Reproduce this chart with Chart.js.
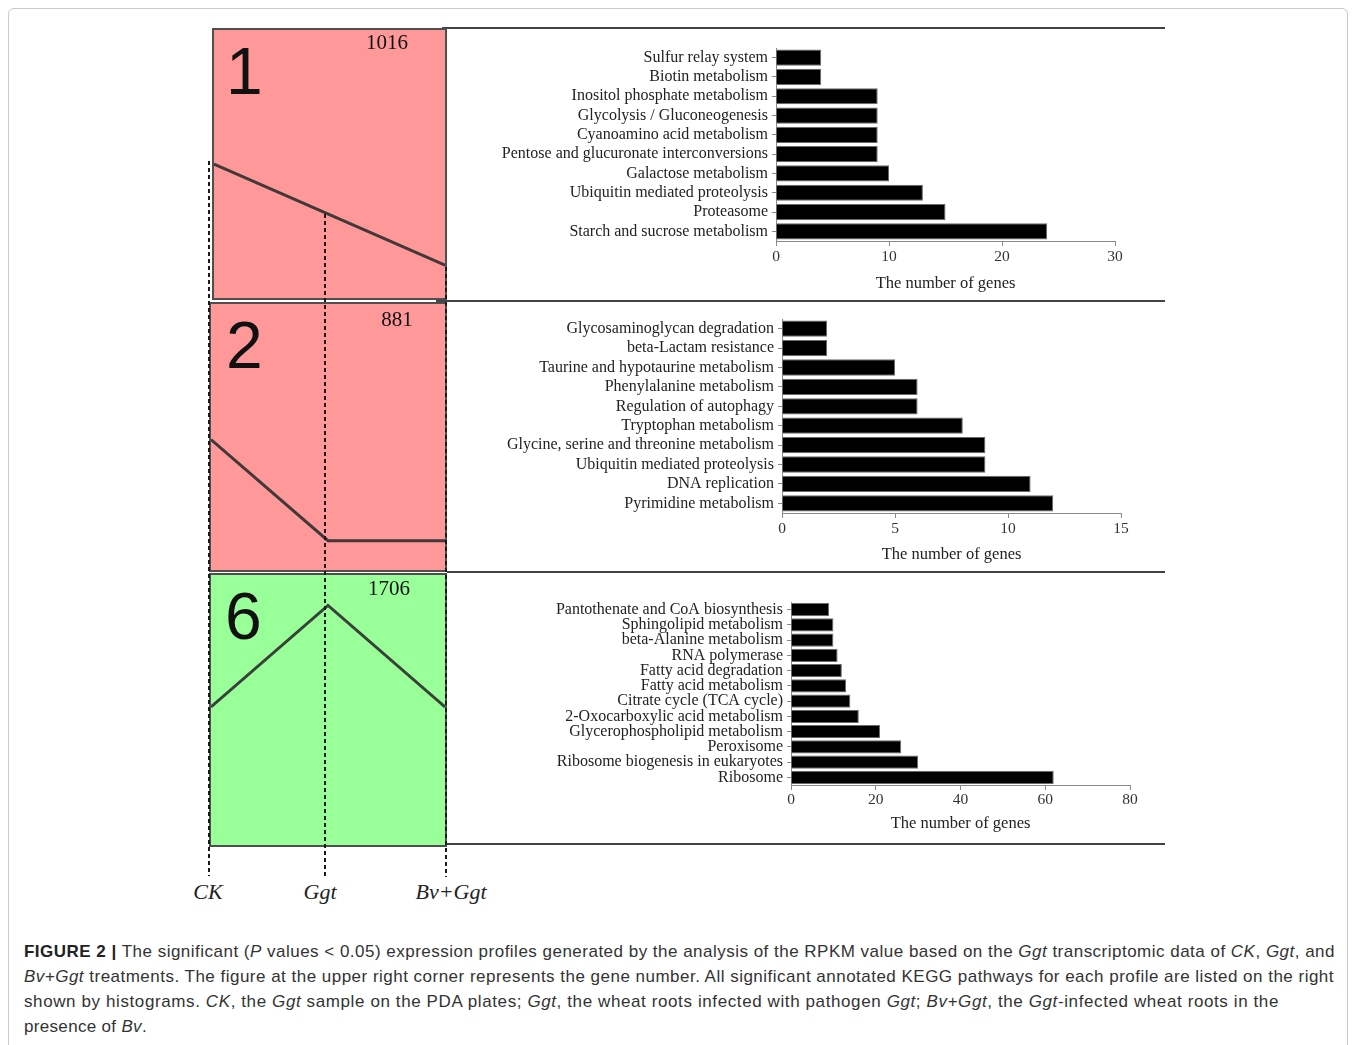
<!DOCTYPE html>
<html>
<head>
<meta charset="utf-8">
<script src="https://cdn.jsdelivr.net/npm/chart.js@4.4.0/dist/chart.umd.min.js"></script>
<style>
body { margin: 0; width: 1355px; height: 1045px; background: #fff; position: relative; overflow: hidden; font-family: 'Liberation Sans', Arial, sans-serif; }
.frame { position: absolute; left: 8px; top: 8px; width: 1338px; height: 1100px; border: 1px solid #c9c9c9; border-radius: 6px; }
.box { position: absolute; box-sizing: border-box; border: 2px solid #4f4f4f; }
.box canvas { position: absolute; left: 0; top: 0; }
.big { position: absolute; font-family: 'Liberation Sans', Arial, sans-serif; font-size: 66px; line-height: 1; color: #111; }
.count { position: absolute; font-family: 'Liberation Serif', 'Times New Roman', serif; font-size: 21px; line-height: 1; color: #111; transform: translate(-50%, -50%); }
.dash { position: absolute; width: 2px; background: repeating-linear-gradient(to bottom, #1a1a1a 0 4px, transparent 4px 7px); }
.hline { position: absolute; height: 1.5px; background: #444; }
.trt { position: absolute; font-family: 'Liberation Serif', 'Times New Roman', serif; font-style: italic; font-size: 22px; line-height: 1; color: #222; transform: translate(-50%, -50%); }
.bars { position: absolute; left: 448px; }
.cap { position: absolute; left: 24px; top: 939px; font-size: 17px; line-height: 25px; color: #333; }
.cap div { white-space: nowrap; display: table; }
.cap b { color: #222; }
</style>
</head>
<body>
<div class="frame"></div>

<div class="hline" style="left:442px; top:27px; width:723px;"></div>
<div class="hline" style="left:436px; top:300px; width:729px;"></div>
<div class="hline" style="left:447px; top:571px; width:718px;"></div>
<div class="hline" style="left:447px; top:843px; width:718px;"></div>

<div class="box" style="left:212px; top:28px; width:235px; height:272px; background:#ff9999;"><canvas id="p1" width="231" height="268"></canvas></div>
<div class="box" style="left:209px; top:302px; width:238px; height:270px; background:#ff9999;"><canvas id="p2" width="234" height="266"></canvas></div>
<div class="box" style="left:209px; top:573px; width:238px; height:274px; background:#99ff99;"><canvas id="p3" width="234" height="270"></canvas></div>

<div class="big" style="left:226px; top:38px;">1</div>
<div class="big" style="left:226px; top:312px;">2</div>
<div class="big" style="left:225px; top:583px;">6</div>
<div class="count" style="left:387px; top:42px;">1016</div>
<div class="count" style="left:397px; top:319px;">881</div>
<div class="count" style="left:389px; top:588px;">1706</div>

<div class="dash" style="left:208px; top:161px; height:715px;"></div>
<div class="dash" style="left:324px; top:214px; height:663px;"></div>
<div class="dash" style="left:445px; top:267px; height:610px;"></div>
<div class="trt" style="left:208px; top:892px;">CK</div>
<div class="trt" style="left:320px; top:892px;">Ggt</div>
<div class="trt" style="left:451px; top:892px;">Bv+Ggt</div>

<canvas class="bars" id="c1" width="717" height="272" style="top:28px;"></canvas>
<canvas class="bars" id="c2" width="717" height="272" style="top:300px;"></canvas>
<canvas class="bars" id="c3" width="717" height="271" style="top:572px;"></canvas>

<div class="cap">
<div data-w="1311"><b>FIGURE 2 |</b> The significant (<i>P</i> values &lt; 0.05) expression profiles generated by the analysis of the RPKM value based on the <i>Ggt</i> transcriptomic data of <i>CK</i>, <i>Ggt</i>, and</div>
<div data-w="1310"><i>Bv+Ggt</i> treatments. The figure at the upper right corner represents the gene number. All significant annotated KEGG pathways for each profile are listed on the right</div>
<div data-w="1255">shown by histograms. <i>CK</i>, the <i>Ggt</i> sample on the PDA plates; <i>Ggt</i>, the wheat roots infected with pathogen <i>Ggt</i>; <i>Bv+Ggt</i>, the <i>Ggt</i>-infected wheat roots in the</div>
<div data-w="123">presence of <i>Bv</i>.</div>
</div>

<script>
// Profile data (STEM model profiles)

const profileLabels = ['CK', 'Ggt', 'Bv+Ggt'];
const profile1 = [0, -1, -2];
const profile2 = [0, -2, -2];
const profile6 = [0, 2, 0];

// KEGG pathways for each profile

const pathways1 = ['Sulfur relay system', 'Biotin metabolism', 'Inositol phosphate metabolism', 'Glycolysis / Gluconeogenesis', 'Cyanoamino acid metabolism', 'Pentose and glucuronate interconversions', 'Galactose metabolism', 'Ubiquitin mediated proteolysis', 'Proteasome', 'Starch and sucrose metabolism'];
const genes1 = [4, 4, 9, 9, 9, 9, 10, 13, 15, 24];
const ticks1 = [0, 10, 20, 30];

const pathways2 = ['Glycosaminoglycan degradation', 'beta-Lactam resistance', 'Taurine and hypotaurine metabolism', 'Phenylalanine metabolism', 'Regulation of autophagy', 'Tryptophan metabolism', 'Glycine, serine and threonine metabolism', 'Ubiquitin mediated proteolysis', 'DNA replication', 'Pyrimidine metabolism'];
const genes2 = [2, 2, 5, 6, 6, 8, 9, 9, 11, 12];
const ticks2 = [0, 5, 10, 15];

const pathways6 = ['Pantothenate and CoA biosynthesis', 'Sphingolipid metabolism', 'beta-Alanine metabolism', 'RNA polymerase', 'Fatty acid degradation', 'Fatty acid metabolism', 'Citrate cycle (TCA cycle)', '2-Oxocarboxylic acid metabolism', 'Glycerophospholipid metabolism', 'Peroxisome', 'Ribosome biogenesis in eukaryotes', 'Ribosome'];
const genes6 = [9, 10, 10, 11, 12, 13, 14, 16, 21, 26, 30, 62];
const ticks6 = [0, 20, 40, 60, 80];

const axisTitle = 'The number of genes';

// Caption lines stretched to the widths of the original layout

document.querySelectorAll('.cap div').forEach(line => {
    const target = parseFloat(line.dataset.w);
    const width = line.getBoundingClientRect().width;
    const chars = line.textContent.length;
    line.style.letterSpacing = ((target - width) / chars) + 'px';
});

// Profile line charts

function makeProfile(id, values, range) {
    new Chart(document.getElementById(id), {
        type: 'line',
        data: {
            labels: profileLabels,
            datasets: [{ data: values, borderColor: 'rgba(45,45,45,0.9)', borderWidth: 3, pointRadius: 0, tension: 0 }]
        },
        options: {
            responsive: false,
            animation: false,
            devicePixelRatio: 1,
            layout: { padding: 0 },
            plugins: { legend: { display: false }, tooltip: { enabled: false } },
            scales: {
                x: { display: false, offset: false },
                y: { display: false, min: range[0], max: range[1] }
            }
        }
    });
}

makeProfile('p1', profile1, [-2.65, 2.65]);
makeProfile('p2', profile2, [-2.58, 2.68]);
makeProfile('p3', profile6, [-2.72, 2.6]);

// Bar charts, box = placement on the page

function makeBars(id, labels, values, ticks, box) {
    const font = { family: "'Liberation Serif', 'Times New Roman', serif", size: box.font };
    const titleFont = { family: "'Liberation Serif', 'Times New Roman', serif", size: 16.5 };
    const lineHeight = 16.5 * 1.2;
    new Chart(document.getElementById(id), {
        type: 'bar',
        data: {
            labels: labels,
            datasets: [{
                data: values,
                backgroundColor: '#000',
                borderColor: '#6a6a6a',
                borderWidth: 1,
                categoryPercentage: 1,
                barPercentage: box.bar
            }]
        },
        options: {
            indexAxis: 'y',
            responsive: false,
            animation: false,
            devicePixelRatio: 1,
            layout: { padding: { top: box.areaTop - box.top, right: 448 + 717 - box.axisRight, left: 0, bottom: 0 } },
            plugins: { legend: { display: false }, tooltip: { enabled: false } },
            scales: {
                x: {
                    min: ticks[0],
                    max: ticks[ticks.length - 1],
                    afterBuildTicks: (s) => { s.ticks = ticks.map(v => ({ value: v })); },
                    afterFit: (s) => { s.height = box.top + box.height - box.areaBottom; },
                    grid: { drawOnChartArea: false, tickLength: 5, color: '#8a8a8a' },
                    border: { color: '#8a8a8a' },
                    ticks: { font: { family: font.family, size: 15.5 }, color: '#333', padding: box.tickPad, maxRotation: 0 },
                    title: {
                        display: true,
                        text: axisTitle,
                        font: titleFont,
                        color: '#222',
                        padding: { top: 0, bottom: box.top + box.height - box.titleY - lineHeight / 2 }
                    }
                },
                y: {
                    afterFit: (s) => { s.width = box.axisLeft - 448; },
                    grid: { drawOnChartArea: false, tickLength: 4, color: '#8a8a8a', offset: false },
                    border: { color: '#8a8a8a' },
                    ticks: { font: font, color: '#222', padding: 4, autoSkip: false }
                }
            }
        }
    });
}

makeBars('c1', pathways1, genes1, ticks1, { top: 28, height: 272, areaTop: 48, areaBottom: 241, axisLeft: 776, axisRight: 1115, titleY: 284, font: 16, bar: 0.84, tickPad: 2 });
makeBars('c2', pathways2, genes2, ticks2, { top: 300, height: 272, areaTop: 319, areaBottom: 513, axisLeft: 782, axisRight: 1121, titleY: 555, font: 16, bar: 0.84, tickPad: 2 });
makeBars('c3', pathways6, genes6, ticks6, { top: 572, height: 271, areaTop: 602, areaBottom: 785, axisLeft: 791, axisRight: 1130, titleY: 824, font: 16, bar: 0.87, tickPad: 1 });
</script>
</body>
</html>
